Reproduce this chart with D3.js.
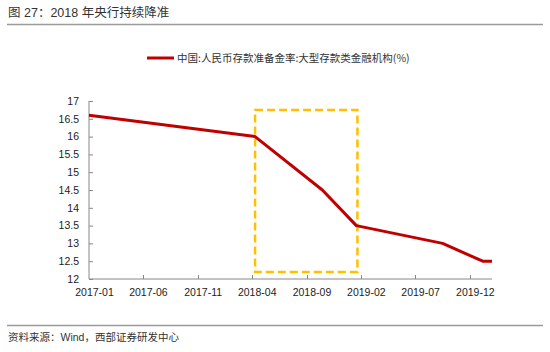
<!DOCTYPE html>
<html><head><meta charset="utf-8">
<script src="https://cdn.jsdelivr.net/npm/d3@7"></script>
<style>body{margin:0;background:#fff;} svg{display:block;}</style>
</head><body>
<script>
const titleText = "图 27：2018 年央行持续降准";
const sourceText = "资料来源：Wind，西部证券研发中心";
const seriesName = "中国:人民币存款准备金率:大型存款类金融机构(%)";
const dates = ["2017-01-01","2018-04-10","2018-10-15","2019-01-18","2019-09-16","2020-01-06","2020-02-01"];
const values = [16.6, 16.0, 14.5, 13.5, 13.0, 12.5, 12.5];
const tickLabels = ["2017-01","2017-06","2017-11","2018-04","2018-09","2019-02","2019-07","2019-12"];
const yTicks = [12,12.5,13,13.5,14,14.5,15,15.5,16,16.5,17];
const highlightRange = ["2018-04-10","2019-01-21"];
const highlightValues = [12.2, 16.75];

const W=550,H=352;
const parse = d3.timeParse("%Y-%m-%d");
const parseM = d3.timeParse("%Y-%m");
const svg = d3.select("body").append("svg").attr("width",W).attr("height",H);
const sans = "'Liberation Sans', Arial, 'Noto Sans CJK SC', sans-serif";
const cjk = "'Noto Sans CJK SC', sans-serif";

// Title
svg.append("text").attr("x",8).attr("y",17).attr("font-family",sans).attr("font-size",12.5).attr("fill","#333").text(titleText);
svg.append("line").attr("x1",7).attr("x2",543).attr("y1",24.5).attr("y2",24.5).attr("stroke","#9a9a9a").attr("stroke-width",1.5);
// Footer
svg.append("line").attr("x1",7).attr("x2",543).attr("y1",325.5).attr("y2",325.5).attr("stroke","#9a9a9a").attr("stroke-width",1.5);
svg.append("text").attr("x",8).attr("y",341).attr("font-family",sans).attr("font-size",10.5).attr("fill","#333").text(sourceText);

const x = d3.scaleTime().domain([parse("2017-01-01"), parse("2020-02-01")]).range([89,492]);
const y = d3.scaleLinear().domain([12,17]).range([279,101]);

// Legend
svg.append("line").attr("x1",147).attr("x2",174).attr("y1",58).attr("y2",58).attr("stroke","#C00000").attr("stroke-width",3);
svg.append("text").attr("x",177).attr("y",62).attr("font-family",cjk).attr("font-size",10.5).attr("fill","#333").text(seriesName);

// Y axis
const yAxis = svg.append("g").attr("transform","translate(89,0)")
  .call(d3.axisLeft(y).tickValues(yTicks).tickSize(-4).tickPadding(10).tickFormat(d=>d3.format("")(d)));
yAxis.select(".domain").attr("stroke","#888").attr("d","M0,101V279");
yAxis.selectAll(".tick line").attr("stroke","#888");
yAxis.selectAll("text").attr("font-family",sans).attr("font-size",10.5).attr("fill","#222");

// X axis ticks at month boundaries, labels at mid-month
const tickDates = tickLabels.map(parseM);
const xAxis = svg.append("g").attr("transform","translate(0,279)");
xAxis.append("line").attr("x1",89).attr("x2",492).attr("y1",0).attr("y2",0).attr("stroke","#888");
xAxis.selectAll(".tk").data(tickDates.slice(1)).join("line").attr("class","tk")
  .attr("x1",d=>Math.round(x(d))+0.5).attr("x2",d=>Math.round(x(d))+0.5).attr("y1",0).attr("y2",-4).attr("stroke","#888");
xAxis.selectAll(".lb").data(tickDates).join("text").attr("class","lb")
  .attr("x",d=>(x(d)+x(d3.timeMonth.offset(d,1)))/2).attr("y",17)
  .attr("text-anchor","middle").attr("font-family",sans).attr("font-size",10.5).attr("fill","#222")
  .text((d,i)=>tickLabels[i]);

// Highlight box
const hx0 = x(parse(highlightRange[0])), hx1 = x(parse(highlightRange[1]));
svg.append("rect").attr("x",hx0).attr("y",y(highlightValues[1])).attr("width",hx1-hx0)
  .attr("height",y(highlightValues[0])-y(highlightValues[1]))
  .attr("fill","none").attr("stroke","#FFC000").attr("stroke-width",2.5).attr("stroke-dasharray","8,4");

// Line
const data = dates.map((d,i)=>({d:parse(d), v:values[i]}));
svg.append("path").datum(data).attr("fill","none").attr("stroke","#C00000").attr("stroke-width",3)
  .attr("stroke-linejoin","round")
  .attr("d", d3.line().x(d=>x(d.d)).y(d=>y(d.v)));
</script>
</body></html>
